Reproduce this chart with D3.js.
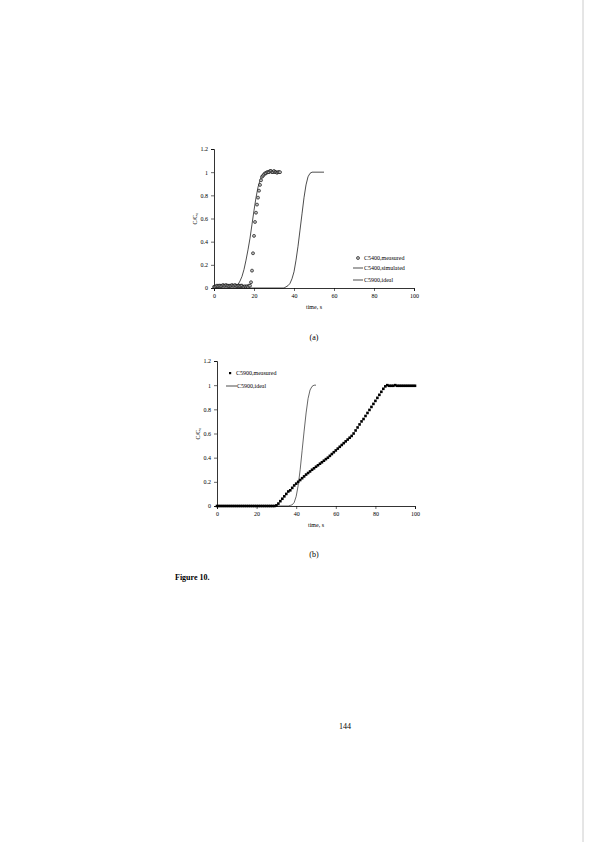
<!DOCTYPE html>
<html><head><meta charset="utf-8">
<script src="https://cdn.jsdelivr.net/npm/d3@7"></script>
<style>body{margin:0;background:#fff}svg{font-family:"Liberation Serif",serif}</style>
</head><body>
<svg id="page" width="595" height="842"></svg>
<script>
// chart (a) data
const measuredA_t = [0,0.5,1,1.5,2,2.5,3,3.5,4,4.5,5,5.5,6,6.5,7,7.5,8,8.5,9,9.5,10,10.5,11,11.5,12,12.5,13,13.5,14,14.5,15,15.5,16,16.5,17,17.5,18,18.5,19,19.5,20,20.5,21,21.5,22,22.5,23,23.5,24,24.5,25,25.5,26,26.5,27,27.5,28,28.5,29,29.5,30,30.5,31,31.5,32,32.5,33];
const measuredA_v = [0.01,0.01,0.015,0.02,0.015,0.02,0.02,0.015,0.02,0.025,0.02,0.02,0.025,0.02,0.02,0.015,0.02,0.02,0.025,0.02,0.02,0.025,0.02,0.015,0.02,0.02,0.015,0.02,0.02,0.01,0.01,0.015,0.01,0.015,0.01,0.02,0.02,0.05,0.15,0.3,0.45,0.57,0.65,0.72,0.78,0.84,0.89,0.93,0.96,0.97,0.98,0.99,0.99,1.0,1.0,1.0,1.01,1.01,1.0,1.0,1.01,1.0,1.0,0.995,1.0,1.0,1.0];
const simulatedA_t = [0,2,4,6,8,10,11,12,13,14,15,16,17,18,19,20,21,22,23,24,25,26,28,30,33];
const simulatedA_v = [0.02,0.02,0.025,0.025,0.025,0.025,0.025,0.03,0.06,0.1,0.16,0.24,0.33,0.43,0.55,0.67,0.78,0.87,0.93,0.97,0.99,1,1,1,1];
const idealA_t = [0,35,36,37,38,39,40,41,42,43,44,45,46,47,48,49,55];
const idealA_v = [0,0,0.01,0.02,0.04,0.08,0.14,0.24,0.36,0.5,0.64,0.78,0.89,0.96,0.99,1,1];
// chart (b) data
const measuredB_t = d3.range(0, 101);
const measuredB_v = [0,0,0,0,0,0,0,0,0,0,0,0,0,0,0,0,0,0,0,0,0,0,0,0,0,0,0,0,0,0,
  0.005,0.02,0.04,0.06,0.08,0.1,0.12,0.13,0.15,0.17,0.185,0.2,0.215,0.23,0.245,0.26,0.273,0.286,0.3,0.312,0.325,0.337,0.35,0.362,0.375,0.388,0.4,
  0.415,0.43,0.445,0.46,0.475,0.49,0.505,0.52,0.535,0.55,0.565,0.58,0.6,
  0.625,0.65,0.675,0.7,0.72,0.745,0.77,0.795,0.82,0.845,0.87,0.895,0.92,0.945,0.97,0.99,1.0,
  0.995,0.995,0.995,1.0,0.995,0.995,0.995,0.995,0.995,0.995,0.995,0.995,0.995,0.995];
const idealB_t = [0,36,37,38,39,40,41,42,43,44,45,46,47,48,49,50];
const idealB_v = [0,0,0.005,0.01,0.03,0.08,0.17,0.3,0.46,0.62,0.77,0.89,0.96,0.99,1,1];
const xTicks = [0,20,40,60,80,100];
const yTicks = [0,0.2,0.4,0.6,0.8,1,1.2];

const svg = d3.select('#page');

function zip(t, v) { return t.map((d, i) => [d, v[i]]); }

function axes(g, x, y, ylabel) {
  g.append('g').attr('transform', `translate(0,${y(0)})`)
    .call(d3.axisBottom(x).tickValues(xTicks).tickSize(3).tickFormat(d3.format('d')));
  g.append('g').attr('transform', `translate(${x(0)},0)`)
    .call(d3.axisLeft(y).tickValues(yTicks).tickSize(3).tickFormat(d => d3.format('~g')(d)));
  g.selectAll('.domain').attr('stroke', '#000').attr('stroke-width', 0.8);
  g.selectAll('.tick line').attr('stroke', '#000').attr('stroke-width', 0.6);
  g.selectAll('.tick text').attr('font-size', 6).attr('font-family', 'Liberation Serif');
  g.append('text').attr('x', (x(0) + x(100)) / 2).attr('y', y(0) + 21)
    .attr('text-anchor', 'middle').attr('font-size', 6).text('time, s');
  g.append('text').attr('transform', `translate(${x(0) - 17},${(y(0) + y(1.2)) / 2}) rotate(-90)`)
    .attr('text-anchor', 'middle').attr('font-size', 6).text(ylabel);
}

const line = (x, y) => d3.line().x(d => x(d[0])).y(d => y(d[1]));

// chart (a)
{
  const x = d3.scaleLinear().domain([0, 100]).range([214, 414]);
  const y = d3.scaleLinear().domain([0, 1.2]).range([288, 149]);
  const g = svg.append('g');
  axes(g, x, y, 'C/C₀');
  g.append('path').datum(zip(simulatedA_t, simulatedA_v)).attr('d', line(x, y))
    .attr('fill', 'none').attr('stroke', '#000').attr('stroke-width', 0.7);
  g.append('path').datum(zip(idealA_t, idealA_v)).attr('d', line(x, y))
    .attr('fill', 'none').attr('stroke', '#000').attr('stroke-width', 0.7);
  g.selectAll('circle.m').data(zip(measuredA_t, measuredA_v)).join('circle')
    .attr('cx', d => x(d[0])).attr('cy', d => y(d[1])).attr('r', 1.5)
    .attr('fill', '#bbb').attr('stroke', '#000').attr('stroke-width', 0.6);
  const lg = g.append('g').attr('font-size', 6);
  lg.append('circle').attr('cx', 358).attr('cy', 258).attr('r', 1.5)
    .attr('fill', '#bbb').attr('stroke', '#000').attr('stroke-width', 0.6);
  lg.append('text').attr('x', 364).attr('y', 260).text('C5400,measured');
  [['C5400,simulated', 270], ['C5900,ideal', 282]].forEach(([t, yy]) => {
    lg.append('line').attr('x1', 353).attr('x2', 363).attr('y1', yy - 2).attr('y2', yy - 2)
      .attr('stroke', '#000').attr('stroke-width', 0.7);
    lg.append('text').attr('x', 364).attr('y', yy).text(t);
  });
  svg.append('text').attr('x', 314).attr('y', 340).attr('text-anchor', 'middle')
    .attr('font-size', 8).text('(a)');
}

// chart (b)
{
  const x = d3.scaleLinear().domain([0, 100]).range([217, 415]);
  const y = d3.scaleLinear().domain([0, 1.2]).range([506, 361]);
  const g = svg.append('g');
  axes(g, x, y, 'C/C₀');
  g.append('path').datum(zip(idealB_t, idealB_v)).attr('d', line(x, y))
    .attr('fill', 'none').attr('stroke', '#000').attr('stroke-width', 0.6);
  g.selectAll('rect.m').data(zip(measuredB_t, measuredB_v)).join('rect')
    .attr('x', d => x(d[0]) - 1.3).attr('y', d => y(d[1]) - 1.3)
    .attr('width', 2.6).attr('height', 2.6).attr('fill', '#000');
  const lg = g.append('g').attr('font-size', 6);
  lg.append('rect').attr('x', 229).attr('y', 372).attr('width', 2.2).attr('height', 2.2).attr('fill', '#000');
  lg.append('text').attr('x', 236).attr('y', 375).text('C5900,measured');
  lg.append('line').attr('x1', 226).attr('x2', 237).attr('y1', 386).attr('y2', 386)
    .attr('stroke', '#000').attr('stroke-width', 0.7);
  lg.append('text').attr('x', 237).attr('y', 388).text('C5900,ideal');
  svg.append('text').attr('x', 314).attr('y', 557).attr('text-anchor', 'middle')
    .attr('font-size', 8).text('(b)');
}

svg.append('text').attr('x', 175).attr('y', 580).attr('font-size', 8)
  .attr('font-weight', 'bold').text('Figure 10.');
svg.append('text').attr('x', 345).attr('y', 729).attr('text-anchor', 'middle')
  .attr('font-size', 8).text('144');
svg.append('line').attr('x1', 583).attr('x2', 583).attr('y1', 0).attr('y2', 842)
  .attr('stroke', '#ccc').attr('stroke-width', 1);
</script>
</body></html>
